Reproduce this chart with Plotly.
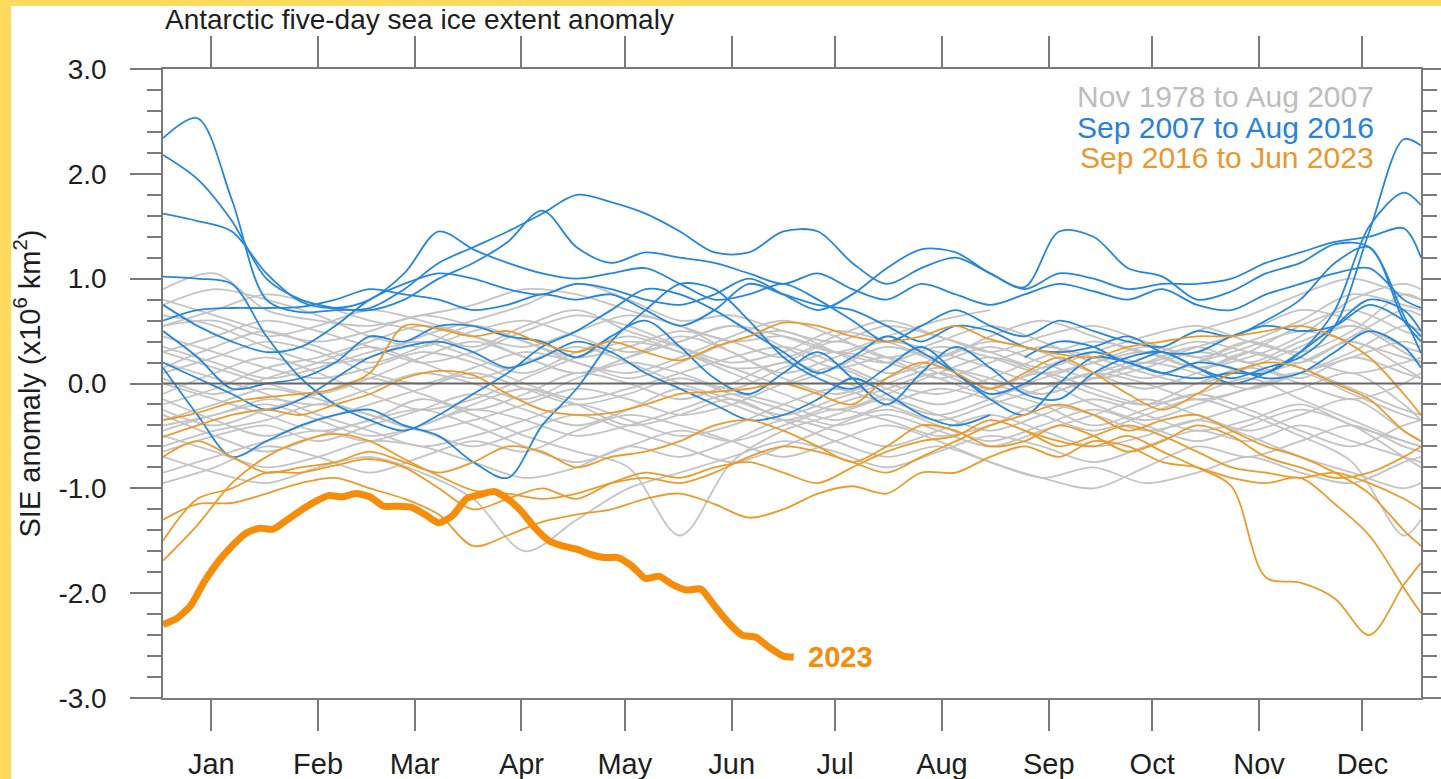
import plotly.graph_objects as go

# ---------------- data (SIE anomaly, x10^6 km^2) ----------------
MONTHS = ["Jan", "Feb", "Mar", "Apr", "May", "Jun", "Jul", "Aug", "Sep", "Oct", "Nov", "Dec"]
MONTH_MID_DAYS = [14, 45, 73, 104, 134, 165, 195, 226, 257, 287, 318, 348]
Y_TICKS = [-3, -2, -1, 0, 1, 2, 3]
Y_TICK_TEXT = ["-3.0", "-2.0", "-1.0", "0.0", "1.0", "2.0", "3.0"]

DAYS15 = [0, 15, 30, 45, 60, 75, 90, 105, 120, 135, 150, 165, 180, 195, 210, 225,
          240, 255, 270, 285, 300, 315, 330, 345, 360, 365]
DAYS10 = [0, 10, 20, 30, 40, 50, 60, 70, 80, 90, 100, 110, 120, 130, 140, 150, 160,
          170, 180, 190, 200, 210, 220, 230, 240, 250, 260, 270, 280, 290, 300, 310,
          320, 330, 340, 350, 360, 365]

# grey: Nov 1978 to Aug 2007
days_1978 = [300, 315, 330, 345, 360, 365]
sie_1978 = [0.20, 0.35, 0.50, 0.40, 0.25, 0.20]
sie_1979 = [0.90, 1.05, 0.70, 0.60, 0.55, 0.65, 0.75, 0.90, 0.85, 0.70, 0.55, 0.40, 0.45, 0.30, 0.20, 0.35, 0.25, 0.10, 0.20, 0.30, 0.15, 0.25, 0.45, 0.80, 0.95, 0.90]
sie_1980 = [0.75, 0.90, 0.80, 0.65, 0.45, 0.35, 0.50, 0.60, 0.45, 0.30, 0.40, 0.55, 0.35, 0.15, 0.25, 0.10, -0.05, 0.15, 0.30, 0.20, 0.35, 0.50, 0.70, 0.60, 0.35, 0.30]
sie_1981 = [0.55, 0.60, 0.45, 0.55, 0.70, 0.60, 0.45, 0.35, 0.50, 0.65, 0.55, 0.30, 0.10, 0.25, 0.40, 0.30, 0.15, 0.00, 0.10, 0.25, 0.40, 0.30, 0.20, 0.45, 0.70, 0.65]
sie_1982 = [0.30, 0.45, 0.60, 0.50, 0.35, 0.20, 0.30, 0.50, 0.65, 0.55, 0.35, 0.15, 0.20, 0.40, 0.25, 0.05, 0.20, 0.35, 0.25, 0.10, 0.00, 0.15, 0.35, 0.55, 0.30, 0.20]
sie_1983 = [0.10, 0.25, 0.40, 0.30, 0.10, 0.00, 0.15, 0.30, 0.20, 0.05, 0.20, 0.40, 0.50, 0.30, 0.10, 0.20, 0.35, 0.20, 0.05, 0.15, 0.30, 0.20, 0.05, 0.25, 0.10, 0.05]
sie_1984 = [-0.20, -0.05, 0.15, 0.25, 0.40, 0.55, 0.45, 0.25, 0.10, 0.25, 0.45, 0.30, 0.05, -0.10, 0.05, 0.25, 0.40, 0.30, 0.10, -0.05, 0.10, 0.30, 0.15, -0.05, -0.25, -0.30]
sie_1985 = [-0.40, -0.30, -0.15, -0.20, -0.05, 0.10, 0.00, -0.15, 0.05, 0.20, 0.10, -0.05, 0.15, 0.30, 0.20, 0.05, -0.10, 0.05, 0.20, 0.35, 0.25, 0.10, 0.20, 0.40, 0.15, 0.05]
sie_1986 = [-0.60, -0.45, -0.35, -0.20, -0.30, -0.45, -0.35, -0.20, -0.05, -0.15, -0.30, -0.20, 0.00, 0.15, -0.05, -0.20, -0.05, 0.10, -0.05, -0.20, -0.10, 0.05, -0.15, -0.35, -0.55, -0.60]
sie_1987 = [-0.85, -0.70, -0.55, -0.45, -0.55, -0.40, -0.25, -0.35, -0.50, -0.40, -0.25, -0.10, -0.20, -0.35, -0.20, -0.05, -0.15, -0.30, -0.45, -0.30, -0.15, -0.30, -0.50, -0.75, -1.45, -1.30]
sie_1988 = [-0.30, -0.50, -0.65, -0.50, -0.35, -0.25, -0.40, -0.60, -0.75, -0.60, -0.45, -0.55, -0.40, -0.25, -0.35, -0.50, -0.40, -0.20, -0.30, -0.45, -0.35, -0.20, -0.05, 0.10, -0.20, -0.35]
sie_1989 = [0.20, 0.05, -0.10, -0.30, -0.45, -0.60, -0.50, -0.35, -0.20, -0.35, -0.50, -0.40, -0.20, -0.05, -0.20, -0.35, -0.20, -0.05, 0.10, 0.00, -0.15, -0.05, 0.10, 0.25, 0.40, 0.35]
sie_1990 = [0.45, 0.30, 0.15, 0.05, 0.15, 0.30, 0.20, 0.00, -0.15, -0.05, 0.10, 0.25, 0.35, 0.20, 0.00, -0.10, 0.05, 0.25, 0.40, 0.30, 0.15, 0.30, 0.55, 0.70, 0.50, 0.45]
sie_1991 = [-0.10, 0.10, 0.25, 0.10, -0.10, -0.25, -0.15, 0.05, 0.25, 0.40, 0.30, 0.10, -0.10, -0.25, -0.10, 0.10, 0.25, 0.10, -0.10, -0.20, 0.00, 0.15, 0.00, -0.15, 0.00, 0.10]
sie_1992 = [-0.50, -0.65, -0.80, -0.70, -0.55, -0.60, -0.75, -0.90, -0.80, -0.60, -0.70, -0.55, -0.35, -0.45, -0.60, -0.45, -0.30, -0.45, -0.60, -0.50, -0.35, -0.50, -0.70, -0.85, -1.00, -0.95]
sie_1993 = [0.65, 0.55, 0.35, 0.20, 0.25, 0.45, 0.60, 0.75, 0.95, 0.80, 0.60, 0.65, 0.50, 0.40, 0.55, 0.45, 0.30, 0.45, 0.55, 0.40, 0.25, 0.40, 0.60, 0.85, 0.75, 0.70]
sie_1994 = [0.00, -0.15, -0.30, -0.45, -0.35, -0.15, -0.30, -0.50, -0.65, -0.80, -1.45, -0.75, -0.45, -0.30, -0.15, -0.30, -0.45, -0.30, -0.15, -0.30, -0.45, -0.35, -0.20, -0.40, -0.55, -0.60]
sie_1995 = [-0.70, -0.85, -0.95, -0.80, -0.70, -0.85, -1.10, -1.60, -1.30, -1.00, -0.85, -0.70, -0.55, -0.65, -0.80, -0.65, -0.50, -0.60, -0.75, -0.60, -0.45, -0.55, -0.40, -0.55, -0.70, -0.75]
sie_1996 = [0.35, 0.20, 0.05, 0.15, 0.30, 0.40, 0.25, 0.10, 0.30, 0.45, 0.30, 0.15, 0.00, 0.15, 0.35, 0.20, 0.00, -0.10, 0.05, 0.20, 0.10, -0.05, 0.10, 0.30, 0.55, 0.50]
sie_1997 = [-0.25, -0.40, -0.25, -0.10, 0.05, -0.10, -0.25, -0.10, 0.10, 0.00, -0.15, 0.00, 0.20, 0.05, -0.15, -0.30, -0.15, 0.00, -0.20, -0.35, -0.20, -0.05, 0.10, -0.10, -0.30, -0.35]
sie_1998 = [0.80, 0.65, 0.50, 0.40, 0.50, 0.65, 0.55, 0.40, 0.25, 0.35, 0.50, 0.40, 0.25, 0.45, 0.60, 0.45, 0.30, 0.15, 0.30, 0.45, 0.55, 0.40, 0.30, 0.50, 0.85, 0.80]
sie_1999 = [-0.95, -0.80, -0.60, -0.70, -0.85, -0.70, -0.55, -0.65, -0.45, -0.30, -0.40, -0.55, -0.70, -0.55, -0.40, -0.55, -0.75, -0.90, -1.00, -0.80, -0.60, -0.70, -0.55, -0.40, -0.60, -0.65]
sie_2000 = [-0.45, -0.30, -0.20, -0.35, -0.50, -0.40, -0.20, -0.05, -0.20, -0.40, -0.30, -0.15, -0.35, -0.55, -0.70, -0.60, -0.75, -0.90, -0.80, -0.95, -0.85, -0.70, -0.85, -0.95, -0.75, -0.70]
sie_2001 = [0.15, 0.35, 0.50, 0.35, 0.20, 0.35, 0.55, 0.40, 0.20, 0.10, 0.25, 0.45, 0.60, 0.45, 0.25, 0.40, 0.55, 0.40, 0.20, 0.05, 0.20, 0.40, 0.25, 0.10, 0.20, 0.25]
sie_2002 = [-0.65, -0.50, -0.40, -0.55, -0.40, -0.25, -0.10, -0.25, -0.40, -0.25, -0.05, -0.20, -0.35, -0.20, -0.05, 0.10, -0.05, -0.20, -0.40, -0.25, -0.10, -0.25, -0.45, -0.60, -0.40, -0.35]
sie_2003 = [0.55, 0.70, 0.85, 0.75, 0.60, 0.50, 0.35, 0.55, 0.70, 0.50, 0.35, 0.20, 0.30, 0.50, 0.40, 0.25, 0.45, 0.60, 0.45, 0.30, 0.50, 0.65, 0.85, 1.00, 0.85, 0.80]
sie_2004 = [-0.35, -0.20, -0.05, -0.15, -0.30, -0.45, -0.60, -0.45, -0.30, -0.45, -0.60, -0.75, -0.60, -0.40, -0.25, -0.40, -0.55, -0.40, -0.25, -0.40, -0.55, -0.40, -0.25, -0.40, -0.70, -0.80]
sie_2005 = [0.05, -0.10, 0.05, 0.20, 0.35, 0.20, 0.05, 0.20, 0.35, 0.20, 0.00, -0.15, -0.30, -0.15, 0.00, 0.15, 0.05, -0.10, 0.05, 0.20, 0.35, 0.20, 0.40, 0.55, 0.30, 0.20]
sie_2006 = [-0.15, -0.35, -0.50, -0.35, -0.20, -0.05, 0.10, -0.05, -0.20, -0.10, 0.05, -0.10, -0.25, -0.40, -0.30, -0.45, -0.60, -0.45, -0.30, -0.15, -0.30, -0.45, -0.30, -0.15, -0.45, -0.55]
days_2007_grey = [0, 15, 30, 45, 60, 75, 90, 105, 120, 135, 150, 165, 180, 195, 210, 225, 240]
sie_2007_grey = [0.30, 0.15, 0.00, -0.10, 0.05, 0.25, 0.40, 0.25, 0.10, 0.25, 0.40, 0.55, 0.45, 0.30, 0.45, 0.60, 0.70]

# blue: Sep 2007 to Aug 2016
days_2007_blue = [250, 260, 270, 280, 290, 300, 310, 320, 330, 340, 350, 360, 365]
sie_2007_blue = [0.25, 0.40, 0.35, 0.20, 0.30, 0.15, 0.05, 0.15, 0.25, 0.55, 1.45, 2.33, 2.27]
sie_2008 = [2.34, 2.53, 1.75, 0.80, 0.68, 0.70, 0.72, 0.90, 1.15, 1.30, 1.45, 1.62, 1.80, 1.73, 1.62, 1.45, 1.25, 1.25, 1.45, 1.45, 1.15, 0.95, 1.10, 1.20, 1.05, 0.90, 1.05, 1.00, 0.90, 0.95, 0.95, 1.00, 1.15, 1.25, 1.35, 1.40, 1.48, 1.20]
sie_2009 = [2.18, 1.95, 1.55, 1.00, 0.80, 0.72, 0.70, 0.80, 1.00, 1.15, 1.35, 1.65, 1.30, 1.15, 1.25, 1.20, 1.15, 1.05, 0.95, 1.05, 0.90, 0.80, 0.95, 0.85, 0.75, 0.85, 0.95, 0.88, 0.80, 0.90, 0.75, 0.70, 0.85, 0.95, 1.05, 1.10, 0.80, 0.72]
sie_2010 = [1.62, 1.55, 1.45, 1.05, 0.78, 0.72, 0.80, 1.05, 1.45, 1.28, 1.15, 1.05, 1.00, 1.05, 1.10, 0.95, 0.80, 0.85, 0.95, 0.80, 0.60, 0.40, 0.55, 0.70, 0.55, 0.45, 0.60, 0.50, 0.40, 0.35, 0.50, 0.45, 0.60, 0.80, 1.15, 1.30, 0.60, 0.40]
sie_2011 = [1.02, 1.00, 0.95, 0.45, 0.05, -0.20, -0.35, -0.45, -0.30, -0.10, 0.10, 0.35, 0.50, 0.70, 0.90, 0.85, 0.70, 0.50, 0.30, 0.10, 0.25, 0.45, 0.30, 0.10, -0.10, 0.00, 0.20, 0.30, 0.20, 0.10, 0.05, 0.10, 0.10, 0.30, 0.70, 1.50, 1.82, 1.70]
sie_2012 = [0.60, 0.70, 0.72, 0.72, 0.73, 0.80, 0.90, 0.85, 0.80, 0.70, 0.75, 0.85, 0.80, 0.85, 0.70, 0.55, 0.70, 0.95, 0.85, 0.75, 0.70, 0.55, 0.40, 0.55, 0.50, 0.35, 0.30, 0.35, 0.45, 0.30, 0.30, 0.45, 0.55, 0.50, 0.55, 0.75, 0.60, 0.45]
sie_2013 = [0.15, -0.30, -0.70, -0.55, -0.40, -0.30, -0.25, -0.40, -0.50, -0.75, -0.90, -0.40, -0.05, 0.40, 0.70, 0.95, 0.90, 0.60, 0.25, 0.05, -0.05, 0.15, 0.35, 0.10, -0.15, -0.30, 0.00, 0.25, 0.20, 0.10, 0.20, 0.15, 0.05, 0.10, 0.30, 0.50, 0.35, 0.15]
sie_2014 = [0.50, 0.25, -0.05, 0.00, 0.05, 0.20, 0.45, 0.40, 0.55, 0.55, 0.45, 0.40, 0.25, 0.45, 0.60, 0.35, 0.05, -0.10, 0.10, 0.30, 0.05, -0.20, 0.10, 0.35, 0.15, -0.10, -0.15, 0.10, 0.25, 0.30, 0.15, 0.00, 0.10, 0.30, 0.55, 0.80, 0.70, 0.50]
sie_2015 = [0.75, 0.55, 0.40, 0.30, 0.35, 0.55, 0.80, 0.95, 1.05, 1.00, 0.90, 0.85, 0.95, 0.90, 0.80, 0.75, 0.85, 1.00, 0.85, 0.70, 0.85, 1.10, 1.28, 1.25, 1.05, 0.92, 1.45, 1.40, 1.10, 1.02, 0.80, 0.88, 1.05, 1.15, 1.33, 1.30, 0.65, 0.29]
days_2016_blue = [0, 10, 20, 30, 40, 50, 60, 70, 80, 90, 100, 110, 120, 130, 140, 150, 160, 170, 180, 190, 200, 210, 220, 230, 240]
sie_2016_blue = [0.20, 0.05, -0.10, -0.25, -0.15, 0.05, 0.25, 0.35, 0.40, 0.30, 0.15, 0.25, 0.40, 0.30, 0.10, -0.05, -0.20, -0.35, -0.30, -0.15, 0.05, -0.10, -0.30, -0.40, -0.30]

# orange: Sep 2016 to Jun 2023
days_2016_orange = [250, 260, 270, 280, 290, 300, 310, 320, 330, 340, 350, 360, 365]
sie_2016_orange = [-0.45, -0.55, -0.60, -0.50, -0.65, -0.80, -0.98, -1.85, -1.90, -2.05, -2.40, -1.92, -1.71]
sie_2017 = [-1.69, -1.35, -0.95, -0.70, -0.55, -0.48, -0.55, -0.72, -0.88, -1.02, -1.05, -1.10, -1.05, -0.95, -0.90, -0.95, -0.85, -0.70, -0.60, -0.65, -0.75, -0.85, -0.70, -0.55, -0.40, -0.30, -0.20, -0.30, -0.45, -0.35, -0.30, -0.45, -0.60, -0.70, -0.85, -1.05, -1.40, -1.55]
sie_2018 = [-1.50, -1.10, -1.00, -0.85, -0.85, -0.78, -0.72, -0.80, -1.00, -1.20, -1.10, -1.00, -1.10, -0.95, -0.85, -0.90, -0.80, -0.75, -0.85, -0.95, -0.80, -0.65, -0.55, -0.50, -0.35, -0.45, -0.60, -0.50, -0.40, -0.50, -0.65, -0.80, -0.85, -0.90, -0.85, -0.95, -1.10, -1.20]
sie_2019 = [-0.70, -0.55, -0.70, -0.85, -0.80, -0.75, -0.65, -0.75, -0.85, -0.75, -0.60, -0.65, -0.80, -0.70, -0.65, -0.55, -0.40, -0.35, -0.45, -0.60, -0.75, -0.60, -0.40, -0.45, -0.60, -0.55, -0.40, -0.50, -0.65, -0.55, -0.40, -0.50, -0.70, -0.80, -0.90, -0.85, -0.70, -0.60]
sie_2020 = [-0.51, -0.40, -0.30, -0.25, -0.30, -0.20, -0.10, 0.05, 0.12, 0.08, -0.10, -0.25, -0.30, -0.28, -0.20, -0.10, -0.08, -0.05, 0.00, -0.10, -0.20, 0.05, 0.20, 0.10, -0.05, 0.10, 0.25, 0.10, -0.10, -0.25, -0.10, 0.10, 0.20, 0.15, 0.00, -0.15, -0.45, -0.55]
sie_2021 = [-0.35, -0.28, -0.18, -0.13, -0.10, -0.05, 0.10, 0.55, 0.52, 0.45, 0.50, 0.38, 0.30, 0.40, 0.30, 0.22, 0.35, 0.45, 0.58, 0.55, 0.45, 0.40, 0.45, 0.55, 0.42, 0.35, 0.28, 0.25, 0.35, 0.40, 0.45, 0.45, 0.50, 0.55, 0.45, 0.25, -0.10, -0.30]
sie_2022 = [-1.30, -1.15, -1.14, -1.05, -0.95, -0.90, -1.00, -1.10, -1.25, -1.55, -1.45, -1.32, -1.25, -1.20, -1.10, -1.05, -1.15, -1.28, -1.20, -1.05, -0.98, -1.05, -0.85, -0.85, -0.70, -0.60, -0.70, -0.55, -0.60, -0.75, -0.80, -0.90, -0.95, -0.90, -1.15, -1.45, -1.95, -2.19]

# 2023 (thick)
days_2023 = [0, 4, 8, 12, 16, 20, 24, 28, 32, 36, 40, 44, 48, 52, 56, 60, 64, 68, 72, 76,
             80, 84, 88, 92, 96, 100, 104, 108, 112, 116, 120, 124, 128, 132, 136, 140,
             144, 148, 152, 156, 160, 164, 168, 172, 176, 180, 183]
sie_2023 = [-2.30, -2.24, -2.12, -1.89, -1.70, -1.55, -1.43, -1.38, -1.39, -1.30, -1.21,
            -1.13, -1.07, -1.08, -1.05, -1.08, -1.17, -1.17, -1.18, -1.25, -1.33, -1.26,
            -1.10, -1.06, -1.03, -1.10, -1.22, -1.38, -1.50, -1.55, -1.58, -1.63, -1.66,
            -1.66, -1.74, -1.86, -1.84, -1.92, -1.97, -1.96, -2.12, -2.28, -2.40, -2.42,
            -2.52, -2.60, -2.61]

GREY_YEARS = [sie_1979, sie_1980, sie_1981, sie_1982, sie_1983, sie_1984, sie_1985,
              sie_1986, sie_1987, sie_1988, sie_1989, sie_1990, sie_1991, sie_1992,
              sie_1993, sie_1994, sie_1995, sie_1996, sie_1997, sie_1998, sie_1999,
              sie_2000, sie_2001, sie_2002, sie_2003, sie_2004, sie_2005, sie_2006]
BLUE_YEARS = [sie_2008, sie_2009, sie_2010, sie_2011, sie_2012, sie_2013, sie_2014, sie_2015]
ORANGE_YEARS = [sie_2017, sie_2018, sie_2019, sie_2020, sie_2021, sie_2022]

# ---------------- styles ----------------
FONT = "Liberation Sans, Arial, Helvetica, sans-serif"
GREY = "#C4C4C4"
BLUE = "#2686DB"
ORANGE = "#EB9B2C"
ORANGE_23 = "#F58C0A"
AXIS = "#7A7A7A"
YELLOW = "#FFDA5C"
TEXT = "#1e1e1e"

fig = go.Figure()


def add_line(x, y, color, width=1.8):
    fig.add_trace(go.Scatter(x=x, y=y, mode="lines", hoverinfo="skip", showlegend=False,
                             line=dict(color=color, width=width, shape="spline", smoothing=0.9)))


add_line(days_1978, sie_1978, GREY)
for ys in GREY_YEARS:
    add_line(DAYS15, ys, GREY)
add_line(days_2007_grey, sie_2007_grey, GREY)
add_line(days_2007_blue, sie_2007_blue, BLUE)
for ys in BLUE_YEARS:
    add_line(DAYS10, ys, BLUE)
add_line(days_2016_blue, sie_2016_blue, BLUE)
add_line(days_2016_orange, sie_2016_orange, ORANGE)
for ys in ORANGE_YEARS:
    add_line(DAYS10, ys, ORANGE)

fig.add_trace(go.Scatter(x=days_2023, y=sie_2023, mode="lines", hoverinfo="skip", showlegend=False,
                         line=dict(color=ORANGE_23, width=7, shape="spline", smoothing=0.6)))

W, H = 1441, 779
ML, MR, MT, MB = 163, 20, 69, 81
PW, PH = W - ML - MR, H - MT - MB


def px_x(p):
    return (p - ML) / PW


def px_y(p):
    return (H - MB - p) / PH


annotations = [
    dict(text="Antarctic five-day sea ice extent anomaly", xref="paper", yref="paper",
         x=0, y=px_y(19), xanchor="left", yanchor="middle", showarrow=False,
         font=dict(family=FONT, size=28, color=TEXT)),
    dict(text="SIE anomaly (x10<sup>6</sup> km<sup>2</sup>)", xref="paper", yref="paper",
         x=0, xshift=-(ML - 27), y=0.5, xanchor="center", yanchor="middle", textangle=-90,
         showarrow=False, font=dict(family=FONT, size=29, color=TEXT)),
    dict(text="Nov 1978 to Aug 2007", xref="paper", yref="paper", x=px_x(1376), y=px_y(97),
         xanchor="right", yanchor="middle", showarrow=False,
         font=dict(family=FONT, size=30, color="#BDBDBD")),
    dict(text="Sep 2007 to Aug 2016", xref="paper", yref="paper", x=px_x(1376), y=px_y(128),
         xanchor="right", yanchor="middle", showarrow=False,
         font=dict(family=FONT, size=30, color="#2A82D6")),
    dict(text="Sep 2016 to Jun 2023", xref="paper", yref="paper", x=px_x(1376), y=px_y(158),
         xanchor="right", yanchor="middle", showarrow=False,
         font=dict(family=FONT, size=30, color="#E8982E")),
    dict(text="<b>2023</b>", xref="x", yref="y", x=days_2023[-1], y=sie_2023[-1],
         xanchor="left", yanchor="middle", xshift=12, showarrow=False,
         font=dict(family=FONT, size=29, color=ORANGE_23)),
]

shapes = [
    dict(type="line", xref="paper", yref="y", x0=0, x1=1, y0=0, y1=0,
         line=dict(color="#666666", width=2), layer="above"),
    dict(type="rect", xref="paper", yref="paper", x0=px_x(-5), x1=px_x(W + 5),
         y0=px_y(6), y1=px_y(-5), fillcolor=YELLOW, line=dict(width=0), layer="below"),
    dict(type="rect", xref="paper", yref="paper", x0=px_x(-5), x1=px_x(11),
         y0=px_y(H + 5), y1=px_y(-5), fillcolor=YELLOW, line=dict(width=0), layer="below"),
]

fig.update_layout(
    width=W, height=H, autosize=False,
    margin=dict(l=ML, r=MR, t=MT, b=MB, pad=0, autoexpand=False),
    paper_bgcolor="white", plot_bgcolor="white",
    showlegend=False,
    annotations=annotations, shapes=shapes,
    xaxis=dict(range=[0, 365], tickmode="array", tickvals=MONTH_MID_DAYS, ticktext=MONTHS,
               ticks="outside", ticklen=31, tickwidth=1.5, tickcolor=AXIS,
               showline=True, linecolor=AXIS, linewidth=1.5, mirror="ticks",
               showgrid=False, zeroline=False, ticklabelstandoff=8, automargin=False,
               tickfont=dict(family=FONT, size=29, color=TEXT)),
    yaxis=dict(range=[-3, 3], tickmode="array", tickvals=Y_TICKS, ticktext=Y_TICK_TEXT,
               ticks="outside", ticklen=31, tickwidth=1.5, tickcolor=AXIS,
               minor=dict(tickmode="linear", tick0=0, dtick=0.2, ticks="outside", ticklen=14,
                          tickwidth=1.5, tickcolor=AXIS, showgrid=False),
               showline=True, linecolor=AXIS, linewidth=1.5, mirror="ticks",
               showgrid=False, zeroline=False, ticklabelstandoff=18, automargin=False,
               tickfont=dict(family=FONT, size=28, color=TEXT)),
)

fig.write_html("out.html", config={"displayModeBar": False},
               post_script="document.body.style.margin='0';document.body.style.overflow='hidden';")
